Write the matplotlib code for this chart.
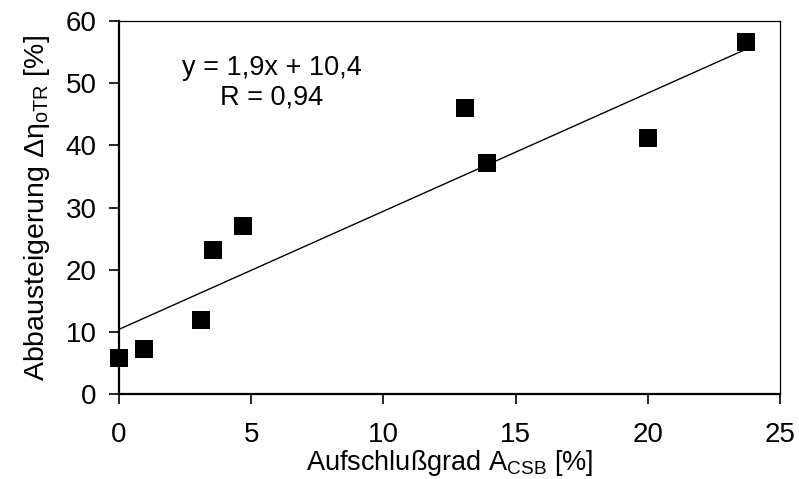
import matplotlib
matplotlib.use("Agg")
import matplotlib.pyplot as plt
import numpy as np

plt.rcParams['font.family'] = ['Liberation Sans', 'DejaVu Sans']
plt.rcParams['mathtext.fontset'] = 'custom'
plt.rcParams['mathtext.rm'] = 'Liberation Sans'
plt.rcParams['mathtext.it'] = 'Liberation Sans:italic'
plt.rcParams['mathtext.bf'] = 'Liberation Sans:bold'

# Data
aufschlussgrad = [0.0, 0.95, 3.1, 3.55, 4.7, 13.1, 13.9, 20.0, 23.7]
abbausteigerung = [5.8, 7.2, 11.9, 23.1, 27.0, 46.0, 37.1, 41.2, 56.7]
slope = 1.9
intercept = 10.4
r_value = "0,94"
x_ticks = [0, 5, 10, 15, 20, 25]
y_ticks = [0, 10, 20, 30, 40, 50, 60]

fig = plt.figure(figsize=(7.99, 4.79), dpi=100)
ax = fig.add_axes([119/799, 1-394/479, (780-119)/799, (394-21)/479])

xl = np.array([0, max(aufschlussgrad)])
ax.plot(xl, slope*xl + intercept, color='black', lw=1.0, zorder=2)
ax.plot(aufschlussgrad, abbausteigerung, linestyle='none', marker='s',
        markersize=13, color='black', markeredgewidth=0, zorder=3, clip_on=False)

ax.set_xlim(0, 25)
ax.set_ylim(0, 60)
ax.set_xticks(x_ticks)
ax.set_yticks(y_ticks)
ax.tick_params(axis='both', direction='out', length=7, width=1.2, labelsize=20, colors='black')
ax.tick_params(axis='x', pad=13)
ax.tick_params(axis='y', pad=9)

ax.spines['left'].set_linewidth(1.6)
ax.spines['bottom'].set_linewidth(1.6)
ax.spines['top'].set_linewidth(0.9)
ax.spines['right'].set_linewidth(0.9)

ax.text(0.2315, 0.874, "y = 1,9x + 10,4", transform=ax.transAxes,
        ha='center', va='center', fontsize=19.5)
ax.text(0.2315, 0.795, "R = " + r_value, transform=ax.transAxes,
        ha='center', va='center', fontsize=19.5)

ax.set_xlabel(r"Aufschlußgrad A$_{\mathregular{CSB}}$ [%]", fontsize=19.5, labelpad=0)
ax.set_ylabel("Abbausteigerung Δη$_{\\mathregular{oTR}}$ [%]", fontsize=20.5, labelpad=10)

fig.savefig("out.png", dpi=100)
